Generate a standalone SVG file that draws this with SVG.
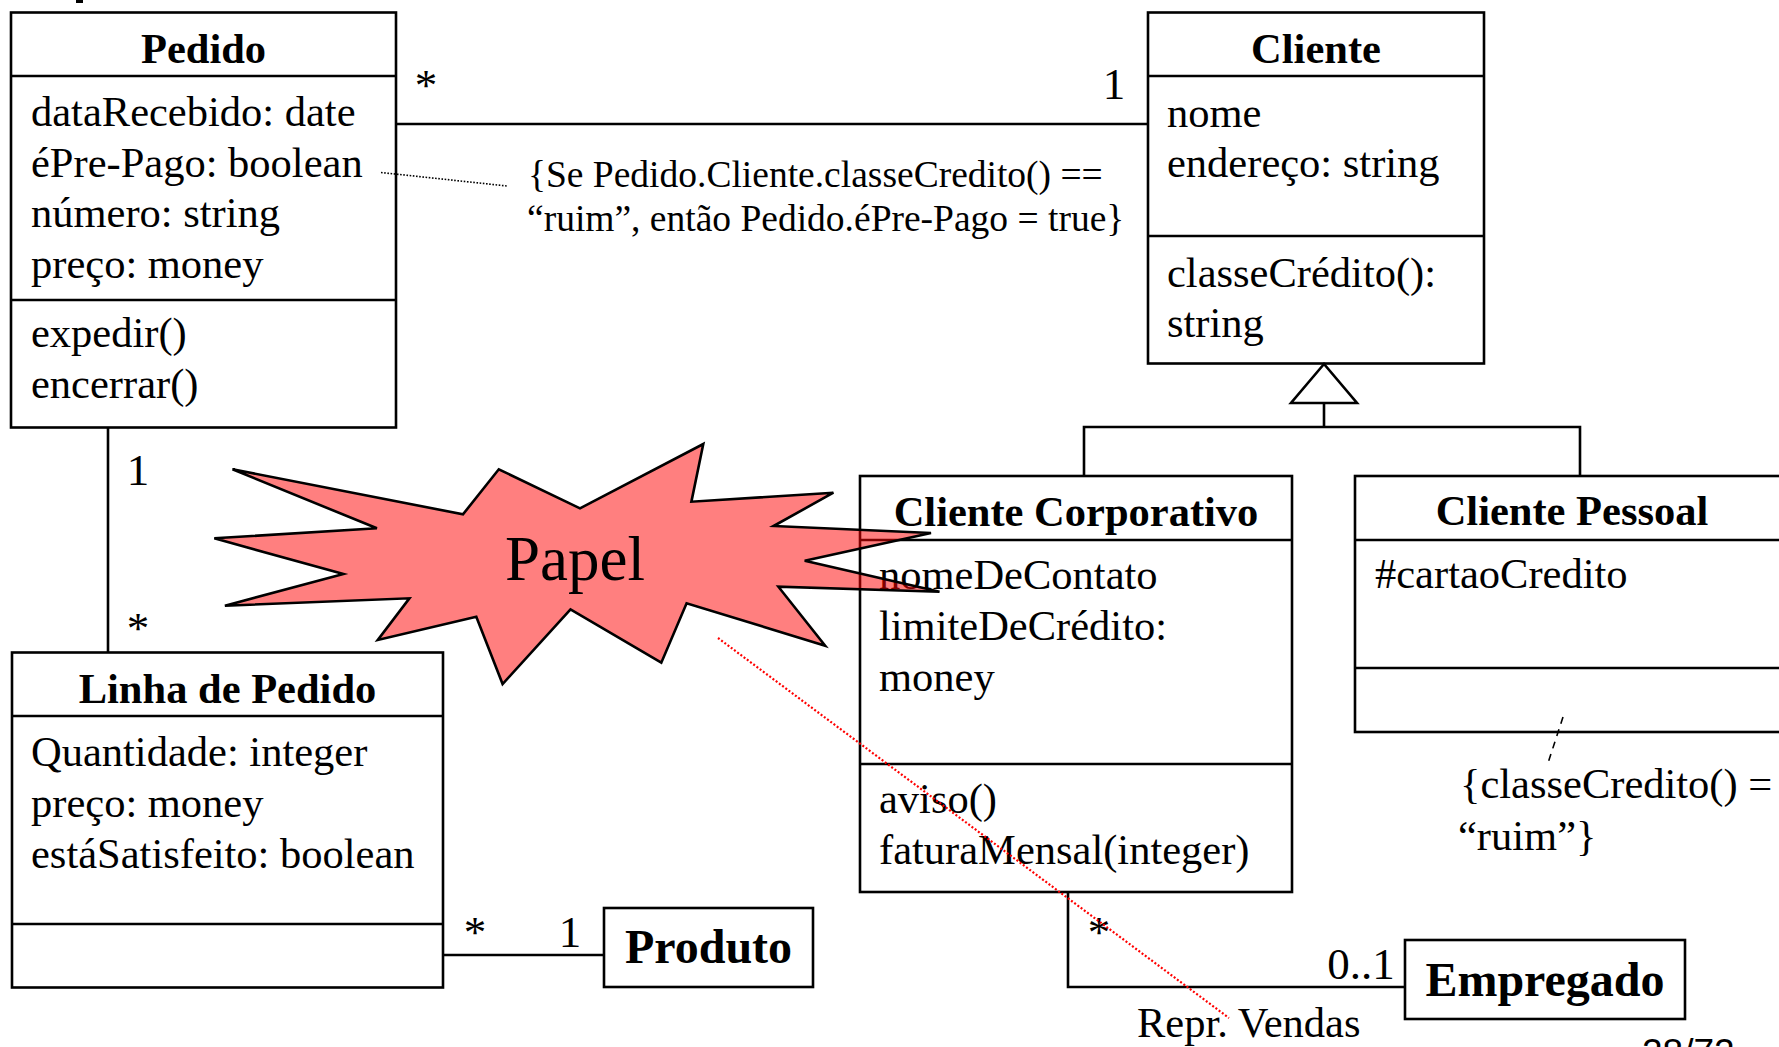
<svg xmlns="http://www.w3.org/2000/svg" width="1779" height="1047" viewBox="0 0 1779 1047">
<style>
.box{fill:#fff;stroke:#000;stroke-width:2.6}
.ln{stroke:#000;stroke-width:2.6;fill:none}
.t{font-family:"Liberation Serif","Times New Roman",serif;font-size:42.5px;fill:#000}
.b{font-weight:bold;text-anchor:middle}
.h{font-weight:bold;text-anchor:middle;font-size:48px}
.m{font-size:45px;text-anchor:middle}
.c{font-size:37.5px}
</style>
<rect width="1779" height="1047" fill="#fff"/>
<rect x="76" y="0" width="7" height="3" fill="#000"/>

<g id="pedido">
  <rect class="box" x="11" y="12.5" width="385" height="415"/>
  <line class="ln" x1="11" y1="76" x2="396" y2="76"/>
  <line class="ln" x1="11" y1="300" x2="396" y2="300"/>
  <text class="t b" x="203.5" y="63">Pedido</text>
  <text class="t" x="31" y="126">dataRecebido: date</text>
  <text class="t" x="31" y="177">éPre-Pago: boolean</text>
  <text class="t" x="31" y="227">número: string</text>
  <text class="t" x="31" y="278">preço: money</text>
  <text class="t" x="31" y="347">expedir()</text>
  <text class="t" x="31" y="398">encerrar()</text>
</g>

<g id="cliente">
  <rect class="box" x="1148" y="12.5" width="336" height="351"/>
  <line class="ln" x1="1148" y1="76" x2="1484" y2="76"/>
  <line class="ln" x1="1148" y1="236" x2="1484" y2="236"/>
  <text class="t b" x="1316" y="63">Cliente</text>
  <text class="t" x="1167" y="127">nome</text>
  <text class="t" x="1167" y="177">endereço: string</text>
  <text class="t" x="1167" y="287">classeCrédito():</text>
  <text class="t" x="1167" y="337">string</text>
</g>

<g id="linha-de-pedido">
  <rect class="box" x="12" y="652.5" width="431" height="335"/>
  <line class="ln" x1="12" y1="716" x2="443" y2="716"/>
  <line class="ln" x1="12" y1="924" x2="443" y2="924"/>
  <text class="t b" x="227.5" y="703">Linha de Pedido</text>
  <text class="t" x="31" y="766">Quantidade: integer</text>
  <text class="t" x="31" y="817">preço: money</text>
  <text class="t" x="31" y="868">estáSatisfeito: boolean</text>
</g>

<g id="produto">
  <rect class="box" x="604" y="908" width="209" height="79"/>
  <text class="t h" x="708.5" y="963">Produto</text>
</g>

<g id="cliente-corporativo">
  <rect class="box" x="860" y="476" width="432" height="416"/>
  <line class="ln" x1="860" y1="540" x2="1292" y2="540"/>
  <line class="ln" x1="860" y1="764" x2="1292" y2="764"/>
  <text class="t b" x="1076" y="526">Cliente Corporativo</text>
  <text class="t" x="879" y="589">nomeDeContato</text>
  <text class="t" x="879" y="640">limiteDeCrédito:</text>
  <text class="t" x="879" y="691">money</text>
  <text class="t" x="879" y="813">aviso()</text>
  <text class="t" x="879" y="864">faturaMensal(integer)</text>
</g>

<g id="cliente-pessoal">
  <rect class="box" x="1355" y="476" width="440" height="256"/>
  <line class="ln" x1="1355" y1="540" x2="1795" y2="540"/>
  <line class="ln" x1="1355" y1="668" x2="1795" y2="668"/>
  <text class="t b" x="1572" y="525">Cliente Pessoal</text>
  <text class="t" x="1375" y="588">#cartaoCredito</text>
</g>

<g id="empregado">
  <rect class="box" x="1405" y="940" width="280" height="79"/>
  <text class="t h" x="1545" y="996">Empregado</text>
</g>

<g id="connectors">
  <line class="ln" x1="396" y1="124" x2="1148" y2="124"/>
  <line x1="381" y1="172.5" x2="507" y2="186" stroke="#000" stroke-width="1.6" stroke-dasharray="1.6 1.6"/>
  <line class="ln" x1="108" y1="428" x2="108" y2="652"/>
  <line class="ln" x1="443" y1="955" x2="604" y2="955"/>
  <polyline class="ln" points="1068,892 1068,987 1405,987"/>
  <polyline class="ln" points="1084,476 1084,427 1580,427 1580,476"/>
  <line class="ln" x1="1324" y1="427" x2="1324" y2="403"/>
  <polygon points="1324,364 1291,403 1357,403" fill="#fff" stroke="#000" stroke-width="2.6"/>
  <line x1="1563" y1="717" x2="1548" y2="763" stroke="#000" stroke-width="1.6" stroke-dasharray="7 6"/>
  <text class="t m" x="426" y="100">*</text>
  <text class="t m" x="1114" y="99">1</text>
  <text class="t m" x="138" y="485">1</text>
  <text class="t m" x="138" y="643">*</text>
  <text class="t m" x="475" y="947">*</text>
  <text class="t m" x="570" y="947">1</text>
  <text class="t m" x="1099" y="947">*</text>
  <text class="t m" x="1361" y="979">0..1</text>
  <text class="t" x="1137" y="1037">Repr. Vendas</text>
</g>

<g id="constraint-pedido">
  <text class="t c" x="528" y="187">{Se Pedido.Cliente.classeCredito() ==</text>
  <text class="t c" x="527" y="231">“ruim”, então Pedido.éPre-Pago = true}</text>
</g>

<g id="constraint-pessoal">
  <text class="t" x="1460" y="798">{classeCredito() =</text>
  <text class="t" x="1458" y="850">“ruim”}</text>
</g>

<g id="papel">
  <polygon points="232.5,469.3 463,514.3 498.8,469.3 580,508.3 703.3,444 691.4,501.7 833.4,492.7 773.6,526 931,533 804.7,560.7 939.5,591.7 778.4,586.7 825.2,645.7 686.6,603.3 661.3,662.7 570.5,609.3 502.6,684 476.3,616.7 377.8,640 409.4,598.3 224.9,605.7 343.4,574 214.3,538.3 376.9,528.3" fill="#ff0000" fill-opacity="0.5" stroke="#000" stroke-width="2.6" stroke-linejoin="miter"/>
  <text class="t" x="505" y="580" style="font-size:63px">Papel</text>
</g>

<line id="papel-pointer" x1="718" y1="638" x2="1229" y2="1018" stroke="#ff0000" stroke-width="2.2" stroke-dasharray="2 2"/>

<text x="1642" y="1065" style="font-family:'Liberation Sans',Arial,sans-serif;font-size:37px" fill="#000">28/72</text>
</svg>
